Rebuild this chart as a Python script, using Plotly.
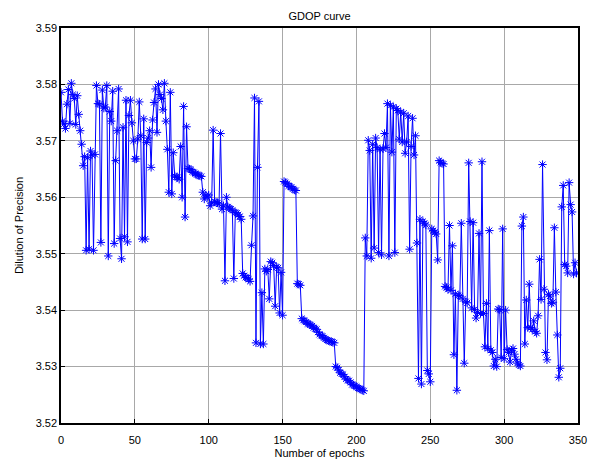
import plotly.graph_objects as go

# GDOP values, one per epoch (epoch 0..349)
gdop = [
    3.5786, 3.5735, 3.5730, 3.5722, 3.5765, 3.5791, 3.5731, 3.5802, 3.5782, 3.5775,
    3.5729, 3.5780, 3.5747, 3.5718, 3.5694, 3.5656, 3.5672, 3.5506, 3.5670, 3.5508,
    3.5682, 3.5675, 3.5506, 3.5676, 3.5798, 3.5766, 3.5765, 3.5520, 3.5790, 3.5758,
    3.5760, 3.5798, 3.5496, 3.5752, 3.5735, 3.5788, 3.5518, 3.5665, 3.5718, 3.5792,
    3.5527, 3.5491, 3.5724, 3.5530, 3.5772, 3.5521, 3.5745, 3.5772, 3.5732, 3.5700,
    3.5668, 3.5668, 3.5703, 3.5769, 3.5709, 3.5526, 3.5739, 3.5526, 3.5697, 3.5705,
    3.5718, 3.5653, 3.5737, 3.5768, 3.5792, 3.5715, 3.5800, 3.5782, 3.5775, 3.5755,
    3.5802, 3.5735, 3.5685, 3.5609, 3.5786, 3.5606, 3.5679, 3.5638, 3.5636, 3.5635,
    3.5632, 3.5690, 3.5600, 3.5761, 3.5565, 3.5725, 3.5651, 3.5650, 3.5649, 3.5645,
    3.5644, 3.5642, 3.5640, 3.5639, 3.5638, 3.5637, 3.5609, 3.5597, 3.5604, 3.5600,
    3.5604, 3.5585, 3.5590, 3.5719, 3.5592, 3.5591, 3.5590, 3.5588, 3.5713, 3.5579,
    3.5585, 3.5452, 3.5600, 3.5583, 3.5581, 3.5579, 3.5577, 3.5456, 3.5573, 3.5572,
    3.5569, 3.5566, 3.5561, 3.5465, 3.5461, 3.5458, 3.5457, 3.5455, 3.5451, 3.5515,
    3.5567, 3.5776, 3.5342, 3.5653, 3.5770, 3.5340, 3.5431, 3.5340, 3.5473, 3.5469,
    3.5472, 3.5420, 3.5486, 3.5484, 3.5479, 3.5407, 3.5476, 3.5475, 3.5395, 3.5467,
    3.5391, 3.5628, 3.5626, 3.5624, 3.5620, 3.5619, 3.5618, 3.5615, 3.5613, 3.5612,
    3.5447, 3.5446, 3.5444, 3.5385, 3.5382, 3.5381, 3.5379, 3.5376, 3.5375, 3.5374,
    3.5372, 3.5369, 3.5367, 3.5366, 3.5361, 3.5357, 3.5355, 3.5354, 3.5351, 3.5349,
    3.5347, 3.5346, 3.5345, 3.5344, 3.5343, 3.5342, 3.5300, 3.5298, 3.5294, 3.5289,
    3.5287, 3.5286, 3.5282, 3.5278, 3.5276, 3.5275, 3.5272, 3.5268, 3.5267, 3.5266,
    3.5264, 3.5262, 3.5261, 3.5260, 3.5258, 3.5257, 3.5528, 3.5496, 3.5701, 3.5683,
    3.5492, 3.5694, 3.5510, 3.5705, 3.5688, 3.5502, 3.5685, 3.5498, 3.5686, 3.5713,
    3.5688, 3.5766, 3.5496, 3.5763, 3.5680, 3.5760, 3.5502, 3.5757, 3.5754, 3.5703,
    3.5751, 3.5698, 3.5749, 3.5678, 3.5698, 3.5744, 3.5508, 3.5690, 3.5740, 3.5675,
    3.5709, 3.5519, 3.5279, 3.5561, 3.5269, 3.5557, 3.5554, 3.5551, 3.5293, 3.5287,
    3.5273, 3.5544, 3.5541, 3.5538, 3.5535, 3.5489, 3.5665, 3.5662, 3.5660, 3.5659,
    3.5442, 3.5440, 3.5437, 3.5550, 3.5435, 3.5514, 3.5321, 3.5429, 3.5258, 3.5426,
    3.5425, 3.5554, 3.5420, 3.5306, 3.5415, 3.5413, 3.5661, 3.5557, 3.5404, 3.5555,
    3.5401, 3.5386, 3.5396, 3.5536, 3.5394, 3.5663, 3.5394, 3.5335, 3.5412, 3.5332,
    3.5541, 3.5329, 3.5325, 3.5301, 3.5313, 3.5300, 3.5402, 3.5401, 3.5316, 3.5544,
    3.5314, 3.5400, 3.5330, 3.5325, 3.5308, 3.5329, 3.5332, 3.5322, 3.5313, 3.5306,
    3.5303, 3.5301, 3.5549, 3.5565, 3.5340, 3.5418, 3.5369, 3.5446, 3.5369, 3.5366,
    3.5381, 3.5362, 3.5359, 3.5390, 3.5490, 3.5419, 3.5658, 3.5437, 3.5325, 3.5312,
    3.5428, 3.5425, 3.5412, 3.5414, 3.5546, 3.5432, 3.5356, 3.5281, 3.5297, 3.5583,
    3.5621, 3.5481, 3.5478, 3.5466, 3.5626, 3.5587, 3.5574, 3.5464, 3.5484, 3.5466,
]
epochs = list(range(len(gdop)))

x_ticks = [0, 50, 100, 150, 200, 250, 300, 350]
y_ticks = [3.52, 3.53, 3.54, 3.55, 3.56, 3.57, 3.58, 3.59]

FONT = "Liberation Sans, Arial, sans-serif"

fig = go.Figure()
fig.add_trace(go.Scatter(
    x=epochs, y=gdop, mode="lines+markers",
    line=dict(color="#0000ff", width=1),
    marker=dict(symbol="asterisk-open", size=7, color="#0000ff",
                line=dict(color="#0000ff", width=1)),
    showlegend=False,
))

axis_common = dict(
    showline=True, linecolor="black", linewidth=1.5, mirror=True,
    showgrid=True, gridcolor="#a8a8a8", gridwidth=1,
    zeroline=False, ticks="inside", ticklen=4, tickcolor="black",
    tickfont=dict(family=FONT, size=11, color="black"),
    automargin=False,
)

fig.update_layout(
    width=595, height=459,
    margin=dict(l=61, r=17, t=28, b=36),
    paper_bgcolor="white", plot_bgcolor="white",
    title=dict(text="GDOP curve", x=0.537, xanchor="center", y=0.965, yanchor="middle",
               font=dict(family=FONT, size=11, color="black")),
    xaxis=dict(range=[0, 350], tickvals=x_ticks, ticklabelstandoff=6,
               title=dict(text="Number of epochs", standoff=4,
                          font=dict(family=FONT, size=11, color="black")),
               **axis_common),
    yaxis=dict(range=[3.52, 3.59], tickvals=y_ticks, tickformat=".2f",
               title=dict(text="Dilution of Precision", standoff=10,
                          font=dict(family=FONT, size=11, color="black")),
               **axis_common),
)

fig.write_html("out.html")
